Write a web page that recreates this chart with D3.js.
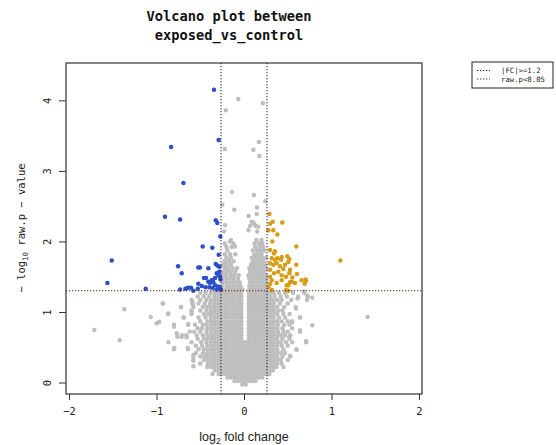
<!DOCTYPE html>
<html><head><meta charset="utf-8">
<script src="https://cdn.jsdelivr.net/npm/d3@7"></script>
<style>body{margin:0;background:#fff}svg{display:block}</style>
</head><body><svg id="c" width="556" height="445"></svg>
<script>
// ---------- data (log2 fold change, -log10 raw p) ----------
const titleLines = ["Volcano plot between", "exposed_vs_control"];
const xTicks = [-2, -1, 0, 1, 2];
const yTicks = [0, 1, 2, 3, 4];
const fcCut = 0.263;     // log2(1.2)
const pCut = 1.301;      // -log10(0.05)
const legendLabels = ["|FC|>=1.2", "raw.p<0.05"];

const downPoints = [[-0.343,4.15],[-0.29,3.44],[-0.834,3.34],[-0.693,2.83],[-0.903,2.35],[-0.731,2.31],[-0.323,2.30],[-0.305,2.26],[-0.271,2.07],[-0.472,1.93],[-0.362,1.91],[-0.29,1.81],[-1.512,1.73],[-0.754,1.65],[-0.712,1.55],[-0.522,1.63],[-0.503,1.63],[-0.408,1.62],[-0.323,1.68],[-0.305,1.66],[-0.282,1.64],[-1.562,1.41],[-1.124,1.33],[-0.731,1.32],[-0.643,1.345],[-0.606,1.345],[-0.579,1.30],[-0.522,1.40],[-0.483,1.37],[-0.457,1.48],[-0.434,1.48],[-0.408,1.43],[-0.389,1.41],[-0.37,1.45],[-0.351,1.42],[-0.396,1.35],[-0.358,1.34],[-0.331,1.38],[-0.312,1.32],[-0.294,1.36],[-0.274,1.34],[-0.266,1.32],[-0.312,1.55],[-0.294,1.52],[-0.274,1.50],[-0.27,1.46],[-0.282,1.57],[-0.331,1.48],[-0.358,1.45],[-0.528,1.33],[-0.67,1.33],[-0.44,1.35]];

const upPoints = [[0.598,1.93],[1.101,1.73],[0.297,1.88],[0.343,1.83],[0.317,1.76],[0.381,1.76],[0.431,1.78],[0.495,1.79],[0.518,1.75],[0.598,1.67],[0.297,1.69],[0.335,1.67],[0.373,1.69],[0.411,1.65],[0.469,1.67],[0.297,1.60],[0.343,1.55],[0.392,1.57],[0.431,1.52],[0.48,1.50],[0.545,1.43],[0.606,1.54],[0.518,1.55],[0.709,1.44],[0.693,1.40],[0.297,1.50],[0.317,1.45],[0.373,1.41],[0.488,1.38],[0.526,1.42],[0.48,1.31],[0.507,1.30],[0.317,1.31],[0.29,2.39],[0.328,2.28],[0.297,2.25],[0.438,2.27],[0.335,2.16],[0.381,2.10],[0.278,2.16],[0.324,2.00],[0.354,1.86],[0.507,1.71],[0.354,1.74],[0.423,1.74],[0.449,1.61],[0.526,1.60],[0.552,1.49],[0.659,1.45],[0.705,1.46],[0.431,1.45],[0.507,1.38],[0.583,1.41],[0.28,1.35],[0.3,1.4]];

const greyUpper = [[-0.065,4.02],[-0.209,3.86],[0.217,3.96],[-0.221,3.31],[0.107,3.30],[0.171,3.41],[0.175,3.21],[-0.137,2.70],[0.114,2.66],[-0.248,2.52],[0.244,2.57],[-0.111,2.45],[0.149,2.48],[0.054,2.36],[0.145,2.39],[0.088,2.28],[0.114,2.25],[0.069,2.22],[0.137,2.22],[0.049,2.16],[0.152,2.14],[0.163,2.21],[-0.217,2.23],[-0.229,2.14],[0.107,2.27],[0.126,2.23],[-0.16,2.0],[-0.122,1.97],[-0.103,1.93]];

const greyOutliers = [[1.413,0.93],[0.781,1.20],[0.781,0.81],[0.709,0.59],[0.64,0.92],[0.64,0.74],[0.602,0.46],[0.526,0.38],[0.518,0.64],[0.549,0.85],[0.594,1.05],[0.613,1.19],[0.686,1.29],[0.724,1.23],[-1.711,0.745],[-1.421,0.60],[-1.368,1.04],[-1.067,0.93],[-0.998,0.84],[-0.968,0.86],[-0.926,1.12],[-0.865,0.98],[-0.865,0.57],[-0.797,0.49],[-0.8,0.79],[-0.769,0.70],[-0.762,0.65],[-0.72,1.07],[-0.712,0.65],[-0.655,0.64],[-0.689,0.92],[-0.636,0.83],[-0.643,0.49],[-0.579,0.39],[-0.579,0.31],[-0.579,0.23],[-0.59,1.15],[-0.579,1.09],[-0.598,1.00]];

// dense cloud, read row by row: [y, core pattern, extra x values]
const coreFull = [-0.255,-0.215,-0.175,-0.135,-0.095,-0.055,-0.015,0.025,0.065,0.105,0.145,0.185,0.225,0.26];
const coreGap  = [-0.255,-0.215,-0.175,-0.135,-0.095,-0.055,-0.03,0.055,0.09,0.125,0.16,0.195,0.23,0.26];
const greyRows = [
 [-0.03, null, [-0.02,0.02]],
 [0.02, null, [-0.11,-0.07,-0.03,0.01,0.05,0.09,0.13]],
 [0.07, null, [-0.19,-0.15,-0.11,-0.07,-0.03,0.01,0.05,0.09,0.13,0.17,0.21]],
 [0.12, "full", [-0.29,-0.36,0.29]],
 [0.17, "full", [-0.295,-0.335,0.30,0.33]],
 [0.22, "full", [-0.295,-0.335,-0.375,-0.42,0.30,0.34,0.37,0.45]],
 [0.27, "full", [-0.295,-0.335,-0.375,-0.415,-0.5,0.30,0.34,0.38,0.43]],
 [0.32, "full", [-0.295,-0.335,-0.375,-0.415,-0.46,-0.58,0.30,0.34,0.38,0.42,0.5]],
 [0.37, "full", [-0.295,-0.335,-0.375,-0.415,-0.45,-0.5,-0.58,0.30,0.34,0.38,0.44,0.53]],
 [0.42, "full", [-0.295,-0.335,-0.375,-0.42,-0.47,-0.55,0.30,0.34,0.38,0.42,0.47]],
 [0.47, "full", [-0.295,-0.335,-0.375,-0.415,-0.46,-0.52,-0.64,-0.8,0.30,0.34,0.38,0.45,0.6]],
 [0.52, "full", [-0.295,-0.335,-0.375,-0.42,-0.48,-0.55,0.30,0.34,0.38,0.43,0.5]],
 [0.57, "full", [-0.295,-0.335,-0.38,-0.43,-0.49,-0.6,0.30,0.34,0.38,0.42,0.48,0.55,0.71]],
 [0.62, "gap", [-0.295,-0.335,-0.375,-0.42,-0.46,-0.53,0.30,0.34,0.38,0.44,0.52]],
 [0.67, "gap", [-0.295,-0.335,-0.375,-0.415,-0.47,-0.54,-0.66,-0.71,0.30,0.34,0.38,0.42,0.47,0.53]],
 [0.72, "gap", [-0.295,-0.335,-0.38,-0.43,-0.5,-0.57,-0.62,0.30,0.34,0.39,0.45,0.5,0.64]],
 [0.77, "gap", [-0.295,-0.335,-0.375,-0.42,-0.48,-0.53,0.30,0.34,0.38,0.44,0.55]],
 [0.82, "gap", [-0.295,-0.335,-0.38,-0.43,-0.47,-0.56,-0.64,-0.8,0.30,0.34,0.39,0.46,0.52]],
 [0.87, "gap", [-0.295,-0.335,-0.375,-0.42,-0.5,0.30,0.34,0.38,0.43,0.5,0.55]],
 [0.92, "gap", [-0.295,-0.335,-0.38,-0.44,-0.52,-0.69,0.30,0.34,0.4,0.47,0.64]],
 [0.97, "gap", [-0.295,-0.335,-0.37,-0.41,-0.46,-0.6,-0.87,0.30,0.34,0.38,0.45,0.52]],
 [1.02, "gap", [-0.295,-0.335,-0.38,-0.43,-0.5,-0.6,0.30,0.34,0.39,0.44]],
 [1.07, "gap", [-0.295,-0.335,-0.375,-0.42,-0.47,-0.58,-0.72,0.30,0.34,0.38,0.46,0.59]],
 [1.12, "gap", [-0.295,-0.34,-0.39,-0.45,-0.52,-0.59,-0.93,0.30,0.34,0.41,0.5]],
 [1.17, "gap", [-0.295,-0.335,-0.38,-0.43,-0.5,-0.6,0.30,0.34,0.38,0.43,0.54,0.72]],
 [1.22, "gap", [-0.295,-0.34,-0.4,-0.46,-0.53,0.30,0.35,0.42,0.49,0.62,0.73]],
 [1.27, "gap", [-0.295,-0.335,-0.38,-0.44,-0.5,0.30,0.34,0.4,0.47,0.56,0.69]],
 [1.32, null, [-0.25,-0.21,-0.17,-0.13,-0.09,-0.05,-0.02,0.06,0.1,0.14,0.18,0.22,0.255]],
 [1.37, null, [-0.25,-0.2,-0.16,-0.12,-0.08,-0.04,0.06,0.1,0.14,0.18,0.22,0.25]],
 [1.42, null, [-0.24,-0.2,-0.16,-0.12,-0.08,-0.05,0.07,0.11,0.15,0.19,0.23,0.255]],
 [1.47, null, [-0.245,-0.2,-0.16,-0.12,-0.07,0.06,0.1,0.14,0.18,0.22,0.25]],
 [1.52, null, [-0.24,-0.2,-0.15,-0.11,-0.06,0.05,0.09,0.13,0.17,0.21,0.25]],
 [1.57, null, [-0.23,-0.19,-0.15,-0.1,0.07,0.11,0.15,0.19,0.23]],
 [1.62, null, [-0.22,-0.18,-0.13,-0.08,0.06,0.1,0.14,0.18,0.22,0.25]],
 [1.67, null, [-0.24,-0.2,-0.15,0.08,0.12,0.16,0.2,0.24]],
 [1.72, null, [-0.22,-0.17,-0.12,0.1,0.14,0.18,0.22]],
 [1.77, null, [-0.2,-0.15,0.09,0.13,0.17,0.21,0.25]],
 [1.82, null, [-0.22,-0.16,-0.1,0.12,0.16,0.2]],
 [1.87, null, [-0.19,0.1,0.15,0.19,0.23]],
 [1.92, null, [-0.2,-0.14,0.13,0.18,0.22]],
 [1.97, null, [-0.22,0.12,0.17,0.21]],
 [2.02, null, [-0.15,0.14,0.2]]
];

// ---------- drawing ----------
const svg = d3.select("#c");
const L = 66, R = 422, T = 63, B = 394;
const x = d3.scaleLinear().domain([-2.035, 2.035]).range([L, R]);
const y = d3.scaleLinear().domain([-0.163, 4.53]).range([B, T]);
const mono = "'DejaVu Sans Mono','Liberation Mono',monospace";
const GREY = "#bebebe", BLUE = "#2a50c8", GOLD = "#d69c16";
const VCOL = "#181848", HCOL = "#6a2424";

const cloud = [];
greyRows.forEach(([yy, core, xs]) => {
  const base = core === "full" ? coreFull : core === "gap" ? coreGap : [];
  base.concat(xs).forEach(xx => cloud.push([xx, yy]));
});
const greyAll = cloud.concat(greyOutliers, greyUpper);

const plot = svg.append("g");
plot.selectAll("circle.g").data(greyAll).enter().append("circle")
  .attr("cx", d => x(d[0])).attr("cy", d => y(d[1])).attr("r", 2.25).attr("fill", GREY);
plot.selectAll("circle.b").data(downPoints).enter().append("circle")
  .attr("cx", d => x(d[0])).attr("cy", d => y(d[1])).attr("r", 2.25).attr("fill", BLUE);
plot.selectAll("circle.o").data(upPoints).enter().append("circle")
  .attr("cx", d => x(d[0])).attr("cy", d => y(d[1])).attr("r", 2.25).attr("fill", GOLD);

// threshold lines
[-fcCut, fcCut].forEach(v => {
  svg.append("line").attr("x1", x(v)).attr("x2", x(v)).attr("y1", T).attr("y2", B)
    .attr("stroke", VCOL).attr("stroke-width", 1).attr("stroke-dasharray", "1.3,1.7");
});
svg.append("line").attr("x1", L).attr("x2", R).attr("y1", y(pCut)).attr("y2", y(pCut))
  .attr("stroke", HCOL).attr("stroke-width", 1).attr("stroke-dasharray", "1.3,1.7");

// box
svg.append("rect").attr("x", L).attr("y", T).attr("width", R - L).attr("height", B - T)
  .attr("fill", "none").attr("stroke", "#333").attr("stroke-width", 1.2);

// axes
const xa = svg.append("g").attr("transform", `translate(0,${B})`)
  .call(d3.axisBottom(x).tickValues(xTicks).tickSize(6).tickPadding(8).tickFormat(d3.format("d")));
xa.select(".domain").remove();
xa.selectAll("line").attr("stroke", "#333");
xa.selectAll("text").attr("font-family", mono).attr("font-size", 10.5).attr("fill", "#222");

const ya = svg.append("g").attr("transform", `translate(${L},0)`)
  .call(d3.axisLeft(y).tickValues(yTicks).tickSize(7).tickFormat(d3.format("d")));
ya.select(".domain").remove();
ya.selectAll("line").attr("stroke", "#333");
ya.selectAll("text").attr("font-family", mono).attr("font-size", 10.5).attr("fill", "#222")
  .attr("text-anchor", "middle").attr("dy", null).attr("x", null)
  .attr("transform", "translate(-14,0) rotate(-90)").attr("dy", "-0.1em").attr("y", 0);

// titles
titleLines.forEach((t, i) => {
  svg.append("text").attr("x", 229).attr("y", 21 + i * 19).attr("text-anchor", "middle")
    .attr("font-family", mono).attr("font-weight", "bold").attr("font-size", 13.7)
    .attr("fill", "#111").text(t);
});

// x label
const xl = svg.append("text").attr("x", 244).attr("y", 441).attr("text-anchor", "middle")
  .attr("font-family", "'Liberation Sans',Arial,sans-serif").attr("font-size", 12.5).attr("fill", "#222");
xl.append("tspan").text("log");
xl.append("tspan").attr("font-size", 8.5).attr("dy", 3).text("2");
xl.append("tspan").attr("dy", -3).text(" fold change");

// y label
const yl = svg.append("text").attr("transform", "translate(25,228) rotate(-90)").attr("text-anchor", "middle")
  .attr("font-family", mono).attr("font-size", 10.5).attr("fill", "#222");
yl.append("tspan").text("\u2212 log");
yl.append("tspan").attr("font-size", 7.5).attr("dy", 3).text("10");
yl.append("tspan").attr("dy", -3).text(" raw.p \u2212 value");

// legend
const lg = svg.append("g");
lg.append("rect").attr("x", 472).attr("y", 62).attr("width", 81).attr("height", 26)
  .attr("fill", "#fff").attr("stroke", "#222").attr("stroke-width", 1);
legendLabels.forEach((t, i) => {
  const yy = 70.5 + i * 8.5;
  lg.append("line").attr("x1", 477).attr("x2", 490).attr("y1", yy).attr("y2", yy)
    .attr("stroke", i === 0 ? VCOL : HCOL).attr("stroke-dasharray", "1.3,1.7");
  lg.append("text").attr("x", 501).attr("y", yy + 2.5).attr("font-family", mono)
    .attr("font-size", 7.3).attr("fill", "#222").text(t);
});
</script></body></html>
